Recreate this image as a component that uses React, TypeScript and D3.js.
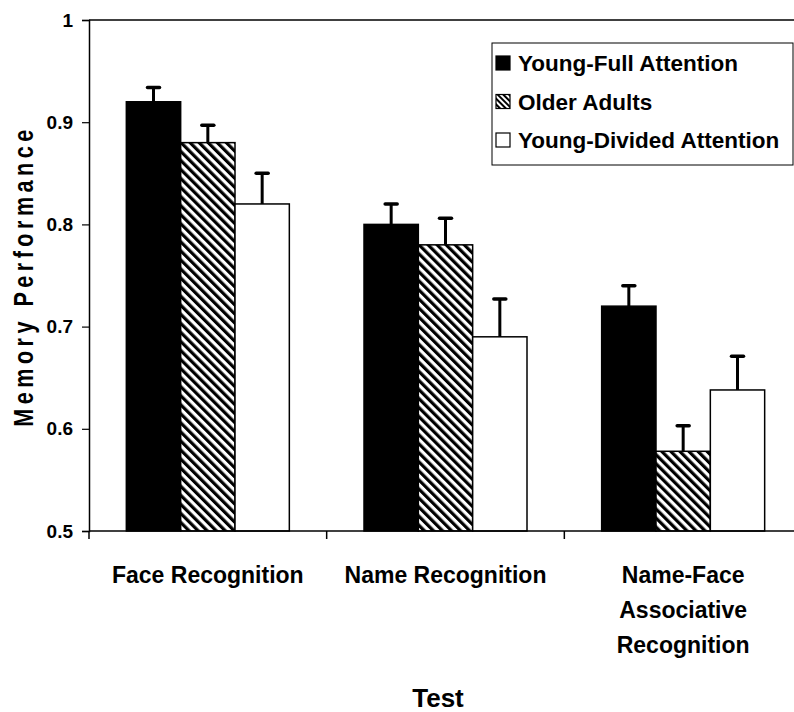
import React, { useRef, useEffect } from 'react';
import * as d3 from 'd3';

const tests = ['Face Recognition', 'Name Recognition', 'Name-Face Associative Recognition'];
const testLines = [['Face Recognition'], ['Name Recognition'], ['Name-Face', 'Associative', 'Recognition']];
const groups = ['Young-Full Attention', 'Older Adults', 'Young-Divided Attention'];
const youngFull = [0.92, 0.8, 0.72];
const olderAdults = [0.88, 0.78, 0.578];
const youngDivided = [0.82, 0.69, 0.638];
const youngFullErr = [0.014, 0.02, 0.02];
const olderAdultsErr = [0.017, 0.026, 0.025];
const youngDividedErr = [0.03, 0.037, 0.033];
const yTicks = [0.5, 0.6, 0.7, 0.8, 0.9, 1];

const series = [youngFull, olderAdults, youngDivided];
const errs = [youngFullErr, olderAdultsErr, youngDividedErr];
const fills = ['#000', 'url(#hatch)', '#fff'];

const App = () => {
    const ref = useRef<SVGSVGElement>(null);

    useEffect(() => {
        const svg = d3.select(ref.current);
        svg.selectAll('*').remove();
        const font = '"Liberation Sans", Arial, sans-serif';

        const margin = { left: 89, top: 20, right: 802, bottom: 531 };

        // hatch patterns (stripes running top-left to bottom-right)
        const defs = svg.append('defs');
        const pat = defs.append('pattern')
            .attr('id', 'hatch')
            .attr('patternUnits', 'userSpaceOnUse')
            .attr('width', 6.4).attr('height', 6.4)
            .attr('patternTransform', 'rotate(-45)');
        pat.append('rect').attr('width', 6.4).attr('height', 6.4).attr('fill', '#fff');
        pat.append('rect').attr('width', 3.2).attr('height', 6.4).attr('fill', '#000');
        const patL = defs.append('pattern')
            .attr('id', 'hatchSmall')
            .attr('patternUnits', 'userSpaceOnUse')
            .attr('width', 4).attr('height', 4)
            .attr('patternTransform', 'rotate(-45)');
        patL.append('rect').attr('width', 4).attr('height', 4).attr('fill', '#fff');
        patL.append('rect').attr('width', 2).attr('height', 4).attr('fill', '#000');

        const y = d3.scaleLinear().domain([0.5, 1]).range([margin.bottom, margin.top]);
        const x0 = d3.scaleBand().domain(tests).range([margin.left, margin.right]);
        const x1 = d3.scaleBand().domain(groups).range([0, 163]);

        // frame top line
        svg.append('line')
            .attr('x1', margin.left).attr('x2', margin.right)
            .attr('y1', margin.top).attr('y2', margin.top)
            .attr('stroke', '#000').attr('stroke-width', 1.5);

        // y axis
        const yAxis = svg.append('g')
            .attr('transform', `translate(${margin.left},0)`)
            .call(d3.axisLeft(y).tickValues(yTicks).tickSize(7).tickFormat(d => (d === 1 ? '1' : d3.format('.1f')(d as number))));
        yAxis.select('.domain').attr('stroke-width', 1.5);
        yAxis.selectAll('.tick line').attr('stroke-width', 1.2);
        yAxis.selectAll('text')
            .attr('font-family', font).attr('font-weight', 'bold').attr('font-size', 19)
            .attr('fill', '#000').attr('x', -16);

        // bars
        tests.forEach((t, i) => {
            const cx = x0(t)! + x0.bandwidth() / 2;
            const start = cx - 81.5;
            groups.forEach((g, j) => {
                const v = series[j][i];
                const bx = start + x1(g)!;
                const bw = x1.bandwidth();
                svg.append('rect')
                    .attr('x', bx).attr('y', y(v))
                    .attr('width', bw).attr('height', y(0.5) - y(v))
                    .attr('fill', fills[j])
                    .attr('stroke', '#000').attr('stroke-width', 1.5);
                const top = y(v + errs[j][i]);
                const mx = bx + bw / 2;
                svg.append('line')
                    .attr('x1', mx).attr('x2', mx).attr('y1', y(v)).attr('y2', top)
                    .attr('stroke', '#000').attr('stroke-width', 3);
                svg.append('line')
                    .attr('x1', mx - 6).attr('x2', mx + 6).attr('y1', top).attr('y2', top)
                    .attr('stroke', '#000').attr('stroke-width', 3.5)
                    .attr('stroke-linecap', 'round');
            });
        });

        // x axis
        const xAxis = svg.append('g').attr('transform', `translate(0,${margin.bottom})`);
        xAxis.append('line')
            .attr('x1', margin.left).attr('x2', margin.right)
            .attr('stroke', '#000').attr('stroke-width', 1.5);
        [margin.left, ...tests.map(t => x0(t)! + x0.bandwidth())].forEach(px => {
            xAxis.append('line').attr('x1', px).attr('x2', px).attr('y1', 0).attr('y2', 8)
                .attr('stroke', '#000').attr('stroke-width', 1.5);
        });
        tests.forEach((t, i) => {
            const cx = x0(t)! + x0.bandwidth() / 2;
            const txt = svg.append('text')
                .attr('text-anchor', 'middle')
                .attr('font-family', font).attr('font-weight', 'bold').attr('font-size', 23)
                .attr('fill', '#000');
            testLines[i].forEach((line, k) => {
                txt.append('tspan').attr('x', cx).attr('y', 583 + k * 35).text(line);
            });
        });

        // axis titles
        svg.append('text')
            .attr('x', 438).attr('y', 707)
            .attr('text-anchor', 'middle')
            .attr('font-family', font).attr('font-weight', 'bold').attr('font-size', 26)
            .text('Test');
        svg.append('text')
            .attr('transform', 'translate(33,276) rotate(-90) scale(0.8,1)')
            .attr('text-anchor', 'middle')
            .attr('font-family', font).attr('font-weight', 'bold').attr('font-size', 27)
            .attr('letter-spacing', 5.6)
            .text('Memory Performance');

        // legend
        const lg = svg.append('g');
        lg.append('rect')
            .attr('x', 492).attr('y', 43).attr('width', 301).attr('height', 122)
            .attr('fill', '#fff').attr('stroke', '#000').attr('stroke-width', 1);
        const legFills = ['#000', 'url(#hatchSmall)', '#fff'];
        groups.forEach((g, j) => {
            const cy = 63 + j * 38.5;
            lg.append('rect')
                .attr('x', 496).attr('y', cy - 7).attr('width', 14).attr('height', 14)
                .attr('fill', legFills[j]).attr('stroke', '#000').attr('stroke-width', 1.2);
            lg.append('text')
                .attr('x', 518).attr('y', cy + 8)
                .attr('font-family', font).attr('font-weight', 'bold').attr('font-size', 22.5)
                .attr('fill', '#000')
                .text(g);
        });
    }, []);

    return (
        <svg ref={ref} width={794} height={712}
            style={{ position: 'absolute', left: 0, top: 0, background: '#fff' }} />
    );
};

export default App;
